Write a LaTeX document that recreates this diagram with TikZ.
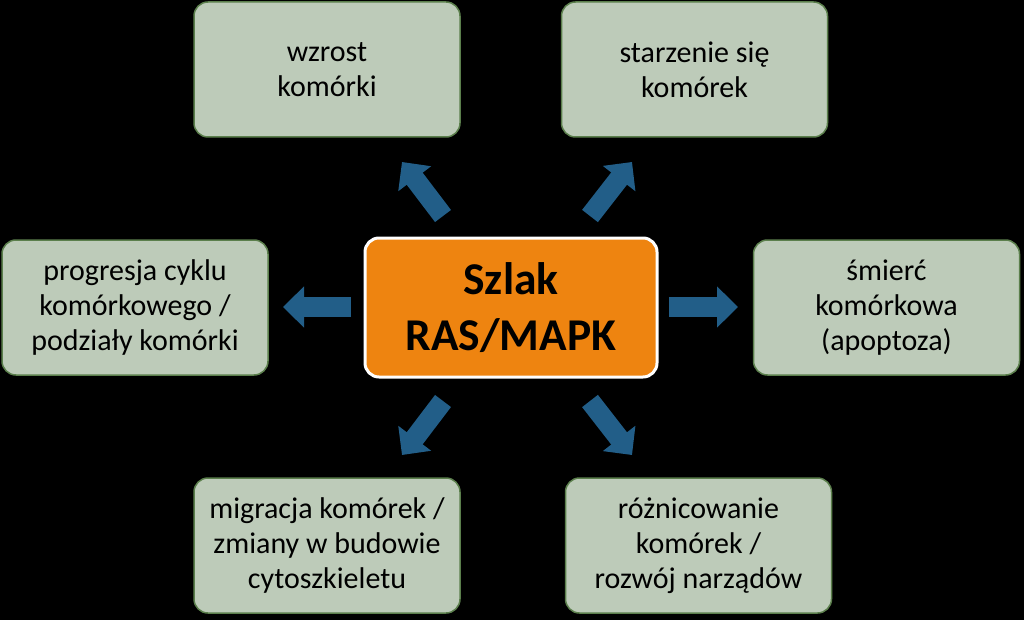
\documentclass[tikz,border=0pt]{standalone}
\usepackage{fontspec}
\setmainfont{Carlito}
\usepackage{tikz}
\usetikzlibrary{arrows.meta,positioning}
\definecolor{BoxGreen}{HTML}{BDCBB9}
\definecolor{EdgeGreen}{HTML}{5B7F4C}
\definecolor{Pathway}{HTML}{EE8410}
\definecolor{ArrowBlue}{HTML}{225E88}

\begin{document}
\begin{tikzpicture}[
  x=1pt,
  y=-1pt,
  effect/.style={minimum width=266pt,minimum height=135pt,rounded corners=14pt,draw=EdgeGreen,line width=1.5pt,fill=BoxGreen,align=center,font=\fontsize{30}{35}\selectfont,inner sep=0pt},
  hub/.style={minimum width=292pt,minimum height=139pt,rounded corners=14pt,draw=white,line width=3pt,fill=Pathway,align=center,font=\bfseries\fontsize{45.5}{56}\selectfont,inner sep=0pt},
  push/.style={ArrowBlue,line width=20pt,-{Triangle[width=40pt,length=21pt]}}
]
  \fill[black] (0,0) rectangle (1024,620);
  \useasboundingbox (0,0) rectangle (1024,620);

  % Pathway in the middle
  \node[hub] (ras) at (511,307.5) {Szlak\\RAS/MAPK};

  % Effects
  \node[effect] (growth) at (327,69.5) {wzrost\\komórki};
  \node[effect] (ageing) at (694.5,69.5) {starzenie się\\komórek};
  \node[effect] (cycle) at (135,307.5) {progresja cyklu\\komórkowego /\\podziały komórki};
  \node[effect] (death) at (886.5,307.5) {śmierć\\komórkowa\\(apoptoza)};
  \node[effect] (migration) at (327,545.5) {migracja komórek /\\zmiany w budowie\\cytoszkieletu};
  \node[effect] (differ) at (698.5,545.5) {różnicowanie\\komórek /\\rozwój narządów};

  % Block arrows
  \coordinate (t1) at (443,216); \coordinate (h1) at (402,162);
  \coordinate (t2) at (590,216); \coordinate (h2) at (632,162);
  \coordinate (t3) at (351,307); \coordinate (h3) at (283,307);
  \coordinate (t4) at (669,307); \coordinate (h4) at (738,307);
  \coordinate (t5) at (443,401); \coordinate (h5) at (402,455);
  \coordinate (t6) at (590,401); \coordinate (h6) at (632,455);
  \foreach \i in {1,...,6} {\draw[push] (t\i) -- (h\i);}
\end{tikzpicture}
\end{document}
